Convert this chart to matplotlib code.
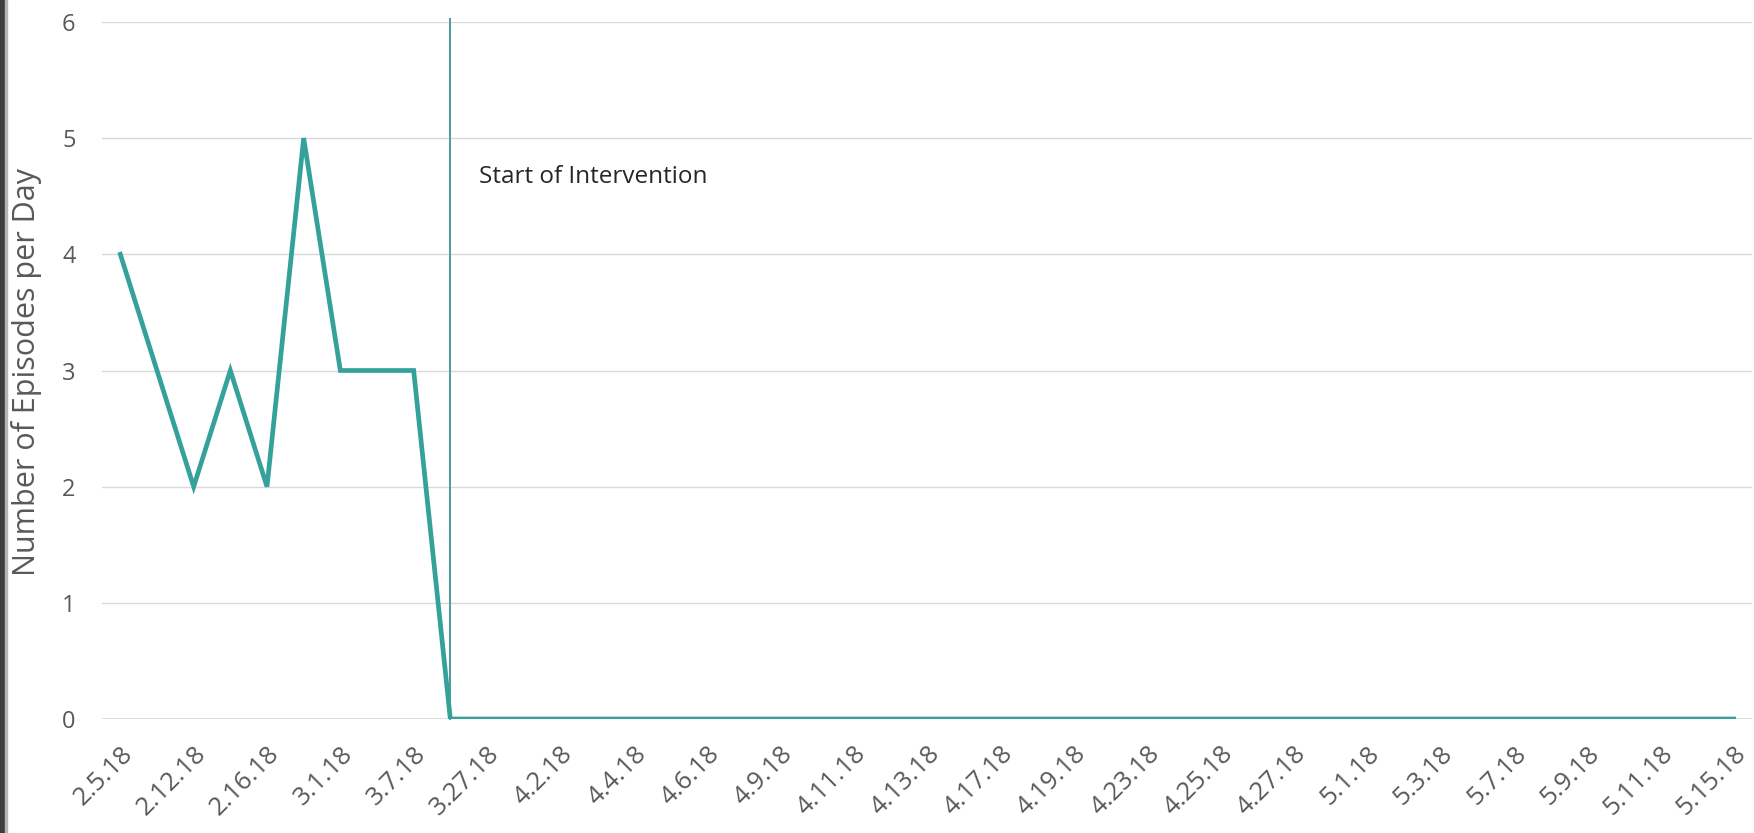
import matplotlib.pyplot as plt
from matplotlib.patches import Rectangle

# session dates (one per recorded day) and episodes counted that day
dates = ['2.5.18', '2.7.18', '2.12.18', '2.14.18', '2.16.18', '2.26.18', '3.1.18',
         '3.5.18', '3.7.18', '3.9.18', '3.27.18', '3.29.18', '4.2.18', '4.3.18',
         '4.4.18', '4.5.18', '4.6.18', '4.8.18', '4.9.18', '4.10.18', '4.11.18',
         '4.12.18', '4.13.18', '4.16.18', '4.17.18', '4.18.18', '4.19.18', '4.20.18',
         '4.23.18', '4.24.18', '4.25.18', '4.26.18', '4.27.18', '4.30.18', '5.1.18',
         '5.2.18', '5.3.18', '5.4.18', '5.7.18', '5.8.18', '5.9.18', '5.10.18',
         '5.11.18', '5.14.18', '5.15.18']
episodes = [4, 3, 2, 3, 2, 5, 3, 3, 3] + [0] * 36
intervention_idx = 9
label_step = 2

teal = '#35a19b'
grey_txt = '#595959'
font = 'Open Sans'

fig = plt.figure(figsize=(17.54, 8.33), dpi=100)
ax = fig.add_axes([102/1754, 1 - 719/833, 1650/1754, 697/833])

x = list(range(len(dates)))
ax.plot(x, episodes, color=teal, lw=3.4, solid_joinstyle='miter', zorder=3)

# intervention marker
ax.plot([intervention_idx, intervention_idx], [0, 6.03], color='#4b9c98',
        lw=1.4, clip_on=False, zorder=2)
ax.text(intervention_idx + 0.78, 4.67, 'Start of Intervention', fontsize=17.5,
        family=font, color='#262626', va='center', ha='left')

ax.set_xlim(-0.5, len(dates) - 0.5)
ax.set_ylim(0, 6)
ax.set_yticks(range(7))
ax.yaxis.grid(True, color='#d9d9d9', lw=1)
ax.set_axisbelow(True)
for s in ax.spines.values():
    s.set_visible(False)
ax.axhline(0, color='#d9d9d9', lw=1.2, zorder=1)

ax.set_xticks(x[::label_step])
ax.set_xticklabels(dates[::label_step], rotation=45, ha='right',
                   rotation_mode='anchor', fontsize=18.5, family=font, color=grey_txt)
ax.tick_params(axis='x', length=0, pad=16)
ax.tick_params(axis='y', length=0, pad=19, labelsize=17, labelcolor=grey_txt)
for lab in ax.get_yticklabels():
    lab.set_family(font)

fig.text(27/1754, 1 - 372/833, 'Number of Episodes per Day', rotation=90,
         ha='center', va='center', fontsize=22, family=font, color=grey_txt)

# dark frame strip along the left edge
fig.patches.append(Rectangle((0, 0), 4.5/1754, 1, transform=fig.transFigure,
                             color='#3c3c3c', zorder=0))
fig.patches.append(Rectangle((4.5/1754, 0), 2/1754, 1, transform=fig.transFigure,
                             color='#b5b5b5', zorder=0))

fig.savefig('out.png', dpi=100, facecolor='white')
